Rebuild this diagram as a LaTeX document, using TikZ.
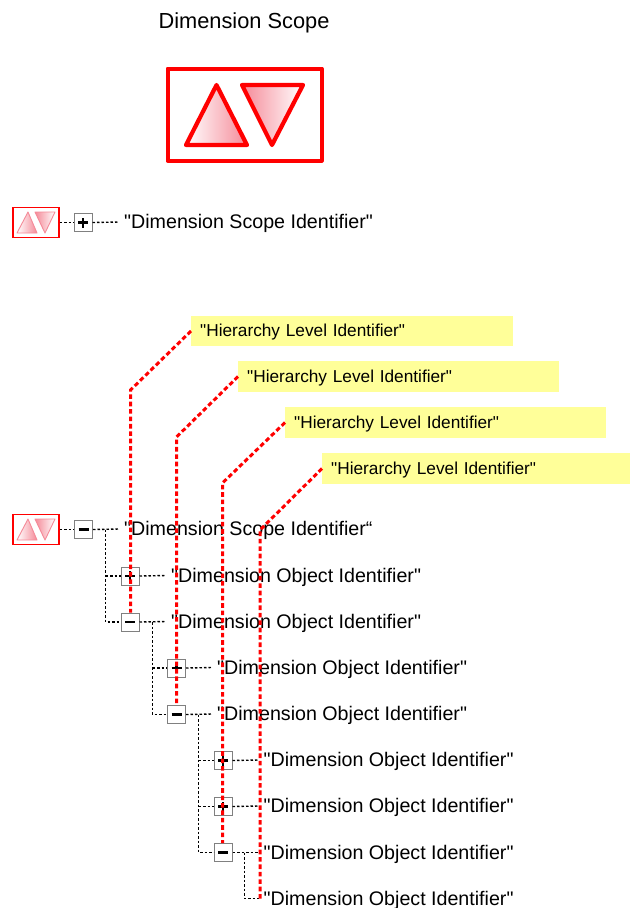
\documentclass[tikz,border=0pt]{standalone}
\usepackage{fontspec}
\setmainfont{Liberation Sans}[Ligatures=TeXOff]
\definecolor{notey}{HTML}{FFFF99}
\definecolor{pinkd}{HTML}{F58A98}
\tikzset{
  x=1pt,y=-1pt,
  titletext/.style={inner sep=0pt,font=\fontsize{21.8}{26}\selectfont},
  treelabel/.style={anchor=west,inner ysep=0pt,inner xsep=5pt,text height=14pt,text depth=1pt,font=\fontsize{19.65}{24}\selectfont},
  notebox/.style={anchor=west,fill=notey,minimum height=30.5pt,inner xsep=9pt,inner ysep=0pt,align=left,text height=13pt,text depth=2pt,font=\fontsize{17.25}{22}\selectfont},
  togglebox/.style={draw=black!50,fill=white,line width=1pt,minimum size=18pt,inner sep=0pt},
  sign/.style={black,line width=2.6pt},
  boxplus/.style={togglebox,path picture={
    \draw[sign] ([xshift=-5pt]path picture bounding box.center) -- ([xshift=5pt]path picture bounding box.center);
    \draw[sign] ([yshift=-5pt]path picture bounding box.center) -- ([yshift=5pt]path picture bounding box.center);}},
  boxminus/.style={togglebox,path picture={
    \draw[sign] ([xshift=-5pt]path picture bounding box.center) -- ([xshift=5pt]path picture bounding box.center);}},
  treeline/.style={black,line width=1.4pt,dash pattern=on 2.5pt off 2pt},
  redline/.style={red,line width=3pt,dash pattern=on 4.6pt off 2.8pt},
  bigframe/.style={draw=red,line width=4pt,line join=round,minimum width=154pt,minimum height=92pt,inner sep=0pt},
  bigtri/.style={draw=red,line width=4.2pt,line join=round},
  smallframe/.style={draw=red,line width=1.4pt,fill=white,minimum width=46pt,minimum height=30pt,inner sep=0pt},
  smalltri/.style={draw=pinkd,line width=.9pt,line join=round},
  pics/scopeicon/.style={code={
    \node[smallframe] (box) at (0,0) {};
    \path[smalltri,left color=white,right color=pinkd] (-8,-10.5) -- (1,10.5) -- (-19,10.5) -- cycle;
    \path[smalltri,left color=pinkd,right color=white] (-1,-10.5) -- (19,-10.5) -- (9,10.5) -- cycle;
  }}
}
\begin{document}
\begin{tikzpicture}
\useasboundingbox (0,0) rectangle (630,908);
% title and large symbol
\node[titletext] (title) at (244,23) {Dimension Scope};
\node[bigframe] (big) at (244.5,114.5) {};
\path[bigtri,left color=white,right color=pinkd] (216.5,85) -- (247,145) -- (186,145) -- cycle;
\path[bigtri,left color=pinkd,right color=white] (242,85) -- (303,85) -- (272,145) -- cycle;

% collapsed form
\pic (top) at (36,222.5) {scopeicon};
\node[boxplus] (topb) at (83,222.5) {};
\node[treelabel] (topt) at (119,222) {"Dimension Scope Identifier"};
\draw[treeline] (topbox.east) -- (topb.west);
\draw[treeline] (topb.east) -- (topt.west);

% notes
\node[notebox,text width=304pt] (n1) at (191,331) {"Hierarchy Level Identifier"};
\node[notebox,text width=303pt] (n2) at (238,376.5) {"Hierarchy Level Identifier"};
\node[notebox,text width=303pt] (n3) at (285,422.5) {"Hierarchy Level Identifier"};
\node[notebox,text width=290pt] (n4) at (322,468.5) {"Hierarchy Level Identifier"};

% expanded tree
\pic (root) at (36,529.5) {scopeicon};
\node[boxminus] (b0) at (83.5,529.5) {};
\node[treelabel] (t0) at (119,529) {"Dimension Scope Identifier“};
\node[boxplus]  (b1) at (130,576) {};
\node[treelabel] (t1) at (166,575.5) {"Dimension Object Identifier"};
\node[boxminus] (b2) at (130,622) {};
\node[treelabel] (t2) at (166,621.5) {"Dimension Object Identifier"};
\node[boxplus]  (b3) at (176.5,668) {};
\node[treelabel] (t3) at (212,667.5) {"Dimension Object Identifier"};
\node[boxminus] (b4) at (176.5,714.5) {};
\node[treelabel] (t4) at (212,714) {"Dimension Object Identifier"};
\node[boxplus]  (b5) at (223,760.5) {};
\node[treelabel] (t5) at (258.5,760) {"Dimension Object Identifier"};
\node[boxplus]  (b6) at (223,806.5) {};
\node[treelabel] (t6) at (258.5,806) {"Dimension Object Identifier"};
\node[boxminus] (b7) at (223,852.5) {};
\node[treelabel] (t7) at (258.5,852.5) {"Dimension Object Identifier"};
\node[treelabel] (t8) at (258.5,898.5) {"Dimension Object Identifier"};

\coordinate (j0) at (105.5,529.5);
\coordinate (j2) at (152.5,622);
\coordinate (j4) at (198.5,714.5);
\coordinate (j7) at (244.5,852.5);

\draw[treeline] (rootbox.east) -- (b0.west);
\draw[treeline] (b0.east) -- (t0.west);
\draw[treeline] (j0) -- (j0 |- b2.west) -- (b2.west);
\draw[treeline] (j0 |- b1.west) -- (b1.west);
\draw[treeline] (b1.east) -- (t1.west);
\draw[treeline] (b2.east) -- (t2.west);
\draw[treeline] (j2) -- (j2 |- b4.west) -- (b4.west);
\draw[treeline] (j2 |- b3.west) -- (b3.west);
\draw[treeline] (b3.east) -- (t3.west);
\draw[treeline] (b4.east) -- (t4.west);
\draw[treeline] (j4) -- (j4 |- b7.west) -- (b7.west);
\draw[treeline] (j4 |- b5.west) -- (b5.west);
\draw[treeline] (j4 |- b6.west) -- (b6.west);
\draw[treeline] (b5.east) -- (t5.west);
\draw[treeline] (b6.east) -- (t6.west);
\draw[treeline] (b7.east) -- (t7.west);
\draw[treeline] (j7) -- (j7 |- t8.west) -- (t8.west);

% hierarchy level callouts
\coordinate (e1) at (130.5,390);
\coordinate (e2) at (176.5,437);
\coordinate (e3) at (222.5,483);
\coordinate (e4) at (260,530);
\draw[redline] (n1.west) -- (e1) -- (b2.north -| e1);
\draw[redline] (n2.west) -- (e2) -- (b4.north -| e2);
\draw[redline] (n3.west) -- (e3) -- (b7.north -| e3);
\draw[redline] (n4.west) -- (e4) -- (t8.west -| e4);
\end{tikzpicture}
\end{document}
